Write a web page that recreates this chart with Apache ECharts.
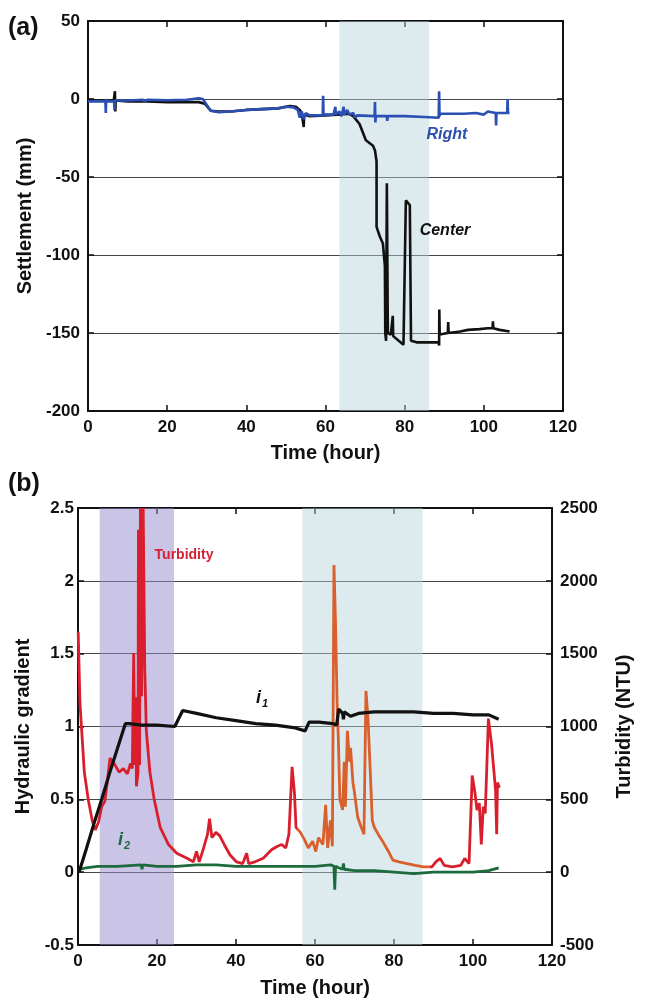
<!DOCTYPE html>
<html><head><meta charset="utf-8">
<script src="https://cdn.jsdelivr.net/npm/echarts@6/dist/echarts.min.js"></script>
<style>html,body{margin:0;padding:0;background:#fff}#c{width:645px;height:1004px}</style>
</head><body><div id="c"></div>
<script>
// ---- Panel (a): settlement (mm) vs time (hour) ----
const centerData = [[0,-0.5],[3,-1],[6.5,-1],[6.8,5],[6.9,-8],[7,-1],[10,-1.5],[15,-1.5],[20,-2],[25,-2],[28,-2],[29.5,-3],[31,-7.5],[33,-8],[36,-8],[40,-7],[44,-6.5],[48,-6],[51,-4.5],[52.5,-5],[53.5,-7],[54,-9],[54.5,-18],[54.6,-10],[56,-11],[60,-10.5],[63,-10],[66,-9.5],[67,-11],[68.6,-16],[70.2,-26.5],[72,-30],[72.5,-33],[72.9,-40],[72.9,-82],[73.7,-88],[74.5,-92.6],[75,-107],[75.1,-150],[75.3,-155],[75.45,-155],[75.5,-54],[75.7,-54],[75.75,-150],[76.5,-151],[76.9,-152],[77,-139],[77.1,-152],[78.5,-155],[79.7,-157.5],[80.1,-158],[80.3,-65],[80.8,-66],[81.3,-68],[81.5,-68],[81.6,-155],[83,-156],[86,-156],[88.6,-156],[88.7,-158],[88.75,-135],[88.85,-151],[90.9,-150],[91,-143],[91.1,-150],[94,-149],[96,-148],[98.9,-147.5],[101,-147],[102.2,-147],[102.3,-142.5],[102.4,-147],[104,-148],[106.5,-149]];
const rightData = [[0,-1.5],[2,-1.5],[4.4,-1.5],[4.5,-9],[4.6,0],[4.7,-1.5],[6.6,-1.5],[6.7,-7],[6.8,-1],[10,-1],[14,-0.5],[14.2,-1.8],[15,-0.5],[20,-0.8],[25,-0.5],[28,0.5],[29,0],[31,-7.5],[33,-8.5],[36,-8],[40,-7],[44,-6.5],[48,-6],[50,-5],[52,-5.5],[53,-7],[53.5,-12],[54,-8],[54.5,-13],[55,-9],[56,-10.5],[59.3,-10.5],[59.4,2],[59.5,-10],[62,-10],[62.5,-5],[62.6,-10],[63.5,-8],[64,-11],[64.6,-5],[64.7,-10],[65.5,-7],[66,-10],[67,-9],[67.5,-12],[68,-10.5],[72.4,-11],[72.5,-2],[72.6,-15],[72.7,-11],[75.5,-11],[75.6,-14],[75.7,-11],[80,-11],[85,-11.5],[88.6,-12],[88.7,5],[88.8,-11],[89,-9.5],[92,-9.5],[95,-9.5],[98,-9],[100,-10],[101,-8],[103,-9],[103.1,-17],[103.2,-9],[105,-9],[105.9,-9],[106,0],[106.1,-9],[106.5,-9]];
const bandA = [63.5, 86.2];

// ---- Panel (b): hydraulic gradient and turbidity vs time ----
const i1Data = [[0.3,0],[0.5,0.02],[2,0.15],[4,0.33],[6,0.5],[8,0.68],[10,0.85],[12,1.02],[13,1.02],[16,1.01],[20,1.01],[24.5,1.0],[26.5,1.11],[30,1.09],[35,1.06],[40,1.04],[45,1.02],[50,1.01],[55,0.99],[57.5,0.97],[58.5,1.03],[61,1.03],[64.5,1.02],[65.5,1.01],[66,1.12],[66.5,1.11],[67,1.09],[67.2,1.05],[67.4,1.1],[69,1.07],[71,1.09],[75,1.1],[80,1.1],[85,1.1],[90,1.09],[95,1.09],[100,1.08],[104,1.08],[106.5,1.05]];
const i2Data = [[0.3,0.0],[0.5,0.02],[2,0.03],[5,0.04],[10,0.04],[16,0.05],[16.2,0.02],[16.4,0.05],[20,0.04],[25,0.04],[30,0.05],[35,0.05],[40,0.04],[45,0.04],[50,0.04],[55,0.04],[60,0.04],[64,0.05],[64.8,0.04],[65,-0.12],[65.2,0.04],[66,0.03],[67,0.02],[67.2,0.06],[67.4,0.02],[70,0.01],[75,0.01],[80,0.0],[85,-0.01],[90,0.0],[95,0.0],[100,0.0],[104,0.01],[106.5,0.03]];
const turbidityData = [[0.05,1650],[0.5,1160],[1.6,687],[2.6,498],[3.6,355],[4.4,290],[5.2,344],[6,450],[6.8,486],[7.5,640],[8.1,782],[8.9,758],[10.4,687],[11.5,711],[12.5,675],[13.3,746],[13.75,711],[14.1,1505],[14.4,735],[14.6,1200],[14.8,590],[15.2,687],[15.3,2350],[15.6,735],[15.8,2500],[16.1,1208],[16.5,2500],[16.9,1398],[17.3,971],[18.2,687],[19.3,498],[20.8,308],[22.9,190],[25,130],[27.6,95],[29.2,71],[30,142],[30.7,71],[31.8,166],[32.8,261],[33.3,367],[33.9,237],[34.9,273],[35.9,249],[37,190],[38.5,118],[40.1,71],[41.7,59],[42.7,130],[43.2,59],[44.8,71],[46.9,95],[49,154],[50.5,178],[51.6,190],[52.6,166],[53.4,261],[54.2,723],[54.8,545],[55.2,308],[56.3,273],[57.3,225],[58.3,166],[59.4,213],[60.2,142],[60.9,237],[62,190],[62.7,462],[63.2,166],[63.9,355],[64.4,178],[64.8,2109],[65.2,1706],[65.6,1161],[65.9,924],[66.3,498],[67,427],[67.4,758],[67.7,450],[68.2,971],[68.75,758],[69,853],[69.6,616],[70,545],[70.8,379],[71.7,308],[72.4,261],[72.9,1244],[73.4,1066],[74,687],[74.5,355],[75,308],[76,261],[77.1,213],[78.6,142],[79.7,83],[81.25,71],[83.3,59],[85.4,47],[87.5,36],[89.6,36],[90.6,71],[91.7,95],[92.7,47],[94.8,36],[96.9,47],[97.9,95],[99,59],[99.8,663],[100.5,545],[101,427],[101.6,474],[102.1,190],[102.6,450],[103.1,403],[103.9,1054],[104.7,877],[105.7,569],[106,261],[106.2,616],[106.7,580]];
const bandB1 = [5.5, 24.3];
const bandB2 = [56.8, 87.2];
const orangeRange = [55.5, 89];

const xTicks = { min: 0, max: 120, interval: 20 };
const FONT = 'Liberation Sans, Arial, sans-serif';
const plain = v => String(v);
const tickLbl = { fontFamily: FONT, fontWeight: 'bold', fontSize: 17, color: '#111', formatter: plain };
const nameStyle = { fontFamily: FONT, fontWeight: 'bold', fontSize: 20, color: '#111' };
const frame = { show: true, onZero: false, lineStyle: { color: '#111', width: 2 } };
const inTick = { show: true, inside: true, length: 6, lineStyle: { color: '#111', width: 1.5 } };
const split = { show: true, lineStyle: { color: '#444', width: 1.2 } };

const chart = echarts.init(document.getElementById('c'), null, { renderer: 'canvas' });
chart.setOption({
  backgroundColor: '#fff',
  animation: false,
  grid: [
    { left: 88, right: 82, top: 21, height: 390 },
    { left: 78, right: 93, top: 508, height: 437 }
  ],
  xAxis: [
    { gridIndex: 0, type: 'value', ...xTicks, position: 'bottom', axisLine: frame, axisTick: inTick, splitLine: { show: false },
      axisLabel: { ...tickLbl, margin: 8 }, name: 'Time (hour)', nameLocation: 'middle', nameGap: 32, nameTextStyle: nameStyle },
    { gridIndex: 0, type: 'value', ...xTicks, position: 'top', axisLine: frame, axisTick: inTick, splitLine: { show: false }, axisLabel: { show: false } },
    { gridIndex: 1, type: 'value', ...xTicks, position: 'bottom', axisLine: frame, axisTick: inTick, splitLine: { show: false },
      axisLabel: { ...tickLbl, margin: 8 }, name: 'Time (hour)', nameLocation: 'middle', nameGap: 33, nameTextStyle: nameStyle },
    { gridIndex: 1, type: 'value', ...xTicks, position: 'top', axisLine: frame, axisTick: inTick, splitLine: { show: false }, axisLabel: { show: false } }
  ],
  yAxis: [
    { gridIndex: 0, type: 'value', min: -200, max: 50, interval: 50, position: 'left', axisLine: frame, axisTick: inTick, splitLine: split,
      axisLabel: { ...tickLbl, margin: 8 }, name: 'Settlement (mm)', nameLocation: 'middle', nameGap: 52, nameTextStyle: nameStyle },
    { gridIndex: 0, type: 'value', min: -200, max: 50, interval: 50, position: 'right', axisLine: frame, axisTick: inTick, splitLine: { show: false }, axisLabel: { show: false } },
    { gridIndex: 1, type: 'value', min: -0.5, max: 2.5, interval: 0.5, position: 'left', axisLine: frame, axisTick: inTick, splitLine: split,
      axisLabel: { ...tickLbl, margin: 4 }, name: 'Hydraulic gradient', nameLocation: 'middle', nameGap: 43, nameTextStyle: nameStyle },
    { gridIndex: 1, type: 'value', min: -500, max: 2500, interval: 500, position: 'right', axisLine: frame, axisTick: inTick, splitLine: { show: false },
      axisLabel: { ...tickLbl, margin: 8 }, name: 'Turbidity (NTU)', nameLocation: 'middle', nameGap: 62, nameRotate: 90, nameTextStyle: nameStyle }
  ],
  visualMap: [{
    type: 'piecewise', show: false, dimension: 0, seriesIndex: 4,
    pieces: [
      { lt: orangeRange[0], color: '#d91f2d' },
      { gte: orangeRange[0], lte: orangeRange[1], color: '#d9602c' },
      { gt: orangeRange[1], color: '#d91f2d' }
    ]
  }],
  series: [
    { name: 'Center', type: 'line', xAxisIndex: 0, yAxisIndex: 0, data: centerData, showSymbol: false, symbol: 'none',
      lineStyle: { color: '#111', width: 2.6 }, z: 3,
      markArea: { silent: true, z: 1, data: [[{ xAxis: bandA[0], itemStyle: { color: 'rgba(180,210,220,0.45)' } }, { xAxis: bandA[1] }]] } },
    { name: 'Right', type: 'line', xAxisIndex: 0, yAxisIndex: 0, data: rightData, showSymbol: false, symbol: 'none',
      lineStyle: { color: '#2b4fb3', width: 2.6 }, z: 4 },
    { name: 'i1', type: 'line', xAxisIndex: 2, yAxisIndex: 2, data: i1Data, showSymbol: false, symbol: 'none',
      lineStyle: { color: '#111', width: 3.2 }, z: 4,
      markArea: { silent: true, z: 1, data: [
        [{ xAxis: bandB1[0], itemStyle: { color: 'rgba(150,138,205,0.5)' } }, { xAxis: bandB1[1] }],
        [{ xAxis: bandB2[0], itemStyle: { color: 'rgba(180,210,220,0.45)' } }, { xAxis: bandB2[1] }]
      ] } },
    { name: 'i2', type: 'line', xAxisIndex: 2, yAxisIndex: 2, data: i2Data, showSymbol: false, symbol: 'none',
      lineStyle: { color: '#1d6b3c', width: 2.8 }, z: 3 },
    { name: 'Turbidity', type: 'line', xAxisIndex: 2, yAxisIndex: 3, data: turbidityData, showSymbol: false, symbol: 'none',
      lineStyle: { width: 2.8 }, z: 3 }
  ],
  graphic: [
    { type: 'text', z: 100, left: 8, top: 16, style: { text: '(a)', font: 'bold 25px ' + FONT, fill: '#111' } },
    { type: 'text', z: 100, left: 8, top: 472, style: { text: '(b)', font: 'bold 25px ' + FONT, fill: '#111' } },
    { type: 'text', z: 100, x: 447, y: 135, style: { text: 'Right', font: 'italic bold 16px ' + FONT, fill: '#2b4fb3', align: 'center', verticalAlign: 'middle' } },
    { type: 'text', z: 100, x: 445, y: 231, style: { text: 'Center', font: 'italic bold 16px ' + FONT, fill: '#111', align: 'center', verticalAlign: 'middle' } },
    { type: 'text', z: 100, x: 184, y: 555, style: { text: 'Turbidity', font: 'bold 14px ' + FONT, fill: '#d42234', align: 'center', verticalAlign: 'middle' } },
    { type: 'text', z: 100, x: 256, y: 688, style: { text: '{a|i}{b|1}', rich: { a: { font: 'italic bold 18px ' + FONT, fill: '#111' }, b: { font: 'italic bold 11px ' + FONT, fill: '#111', padding: [10, 0, 0, 1] } } } },
    { type: 'text', z: 100, x: 118, y: 830, style: { text: '{a|i}{b|2}', rich: { a: { font: 'italic bold 18px ' + FONT, fill: '#1d6b3c' }, b: { font: 'italic bold 11px ' + FONT, fill: '#1d6b3c', padding: [10, 0, 0, 1] } } } }
  ]
});
</script>
</body></html>
